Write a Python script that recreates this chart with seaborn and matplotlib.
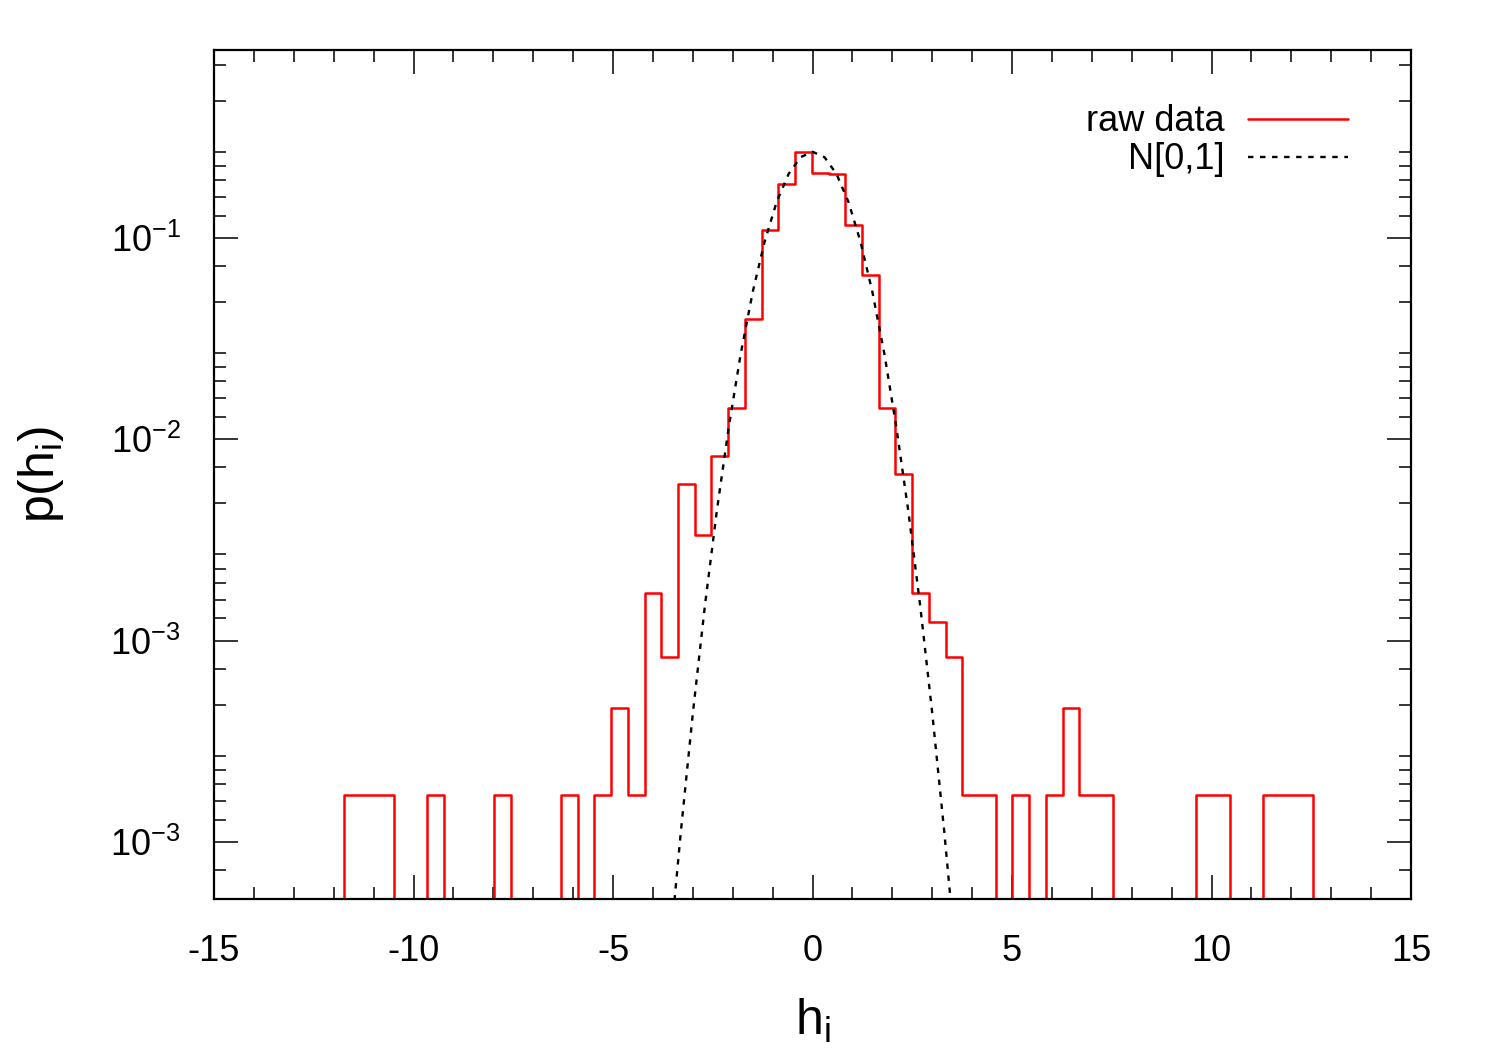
import numpy as np
import pandas as pd
import seaborn as sns
import matplotlib
matplotlib.use("Agg")
import matplotlib.pyplot as plt
from matplotlib.ticker import MultipleLocator, FixedLocator, NullFormatter

# histogram of h_i (58 equal-width bins), density per bin, 0 = empty bin
first_edge = -11.754
bin_width = 0.4191
density = [1.71e-4, 1.71e-4, 1.71e-4, 0, 0, 1.71e-4, 0, 0, 0, 1.71e-4,
           0, 0, 0, 1.71e-4, 0, 1.71e-4, 4.64e-4, 1.71e-4, 1.72e-3, 8.27e-4,
           5.98e-3, 3.35e-3, 8.27e-3, 1.43e-2, 3.95e-2, 0.1096, 0.1848, 0.2684, 0.2110, 0.2072,
           0.1160, 0.0655, 1.43e-2, 6.73e-3, 1.72e-3, 1.24e-3, 8.27e-4, 1.71e-4, 1.71e-4, 0,
           1.71e-4, 0, 1.71e-4, 4.64e-4, 1.71e-4, 1.71e-4, 0, 0, 0, 0,
           0, 1.71e-4, 1.71e-4, 0, 0, 1.71e-4, 1.71e-4, 1.71e-4]

# reference curve
curve_x = [-3.6, -3.3, -3.0, -2.7, -2.4, -2.1, -1.8, -1.5, -1.2, -0.9, -0.6, -0.3, 0.0,
           0.3, 0.6, 0.9, 1.2, 1.5, 1.8, 2.1, 2.4, 2.7, 3.0, 3.3, 3.6]
curve_p = [2.58e-5, 1.13e-4, 4.36e-4, 1.48e-3, 4.40e-3, 1.15e-2, 2.66e-2, 5.39e-2, 9.61e-2,
           0.151, 0.208, 0.252, 0.268, 0.252, 0.208, 0.151, 9.61e-2, 5.39e-2, 2.66e-2,
           1.15e-2, 4.40e-3, 1.48e-3, 4.36e-4, 1.13e-4, 2.58e-5]

y_ticks = [1e-1, 1e-2, 1e-3, 1e-4]
y_tick_labels = ['$10^{-1}$', '$10^{-2}$', '$10^{-3}$', '$10^{-3}$']
minor_factors = [0.726, 0.481, 0.268, 0.228, 0.194, 0.160, 0.129]

ymin, ymax = 5.21e-5, 0.8587
xmin, xmax = -15, 15

sns.set_theme(style="ticks")
plt.rcParams['font.family'] = ['Liberation Sans', 'DejaVu Sans']
plt.rcParams['mathtext.fontset'] = 'custom'
plt.rcParams['mathtext.rm'] = 'Liberation Sans'
plt.rcParams['mathtext.it'] = 'Liberation Sans:italic'
plt.rcParams['axes.unicode_minus'] = False
plt.rcParams['text.color'] = 'black'
plt.rcParams['axes.labelcolor'] = 'black'
plt.rcParams['xtick.labelcolor'] = 'black'
plt.rcParams['ytick.labelcolor'] = 'black'

# step line: empty bins sit on the bottom of the axis
edges = first_edge + bin_width * np.arange(len(density) + 1)
vals = [d if d > 0 else ymin for d in density]
step = pd.DataFrame({
    "h": [xmin] + list(edges) + [xmax],
    "p": [ymin] + vals + [ymin, ymin],
})
gauss = pd.DataFrame({"h": curve_x, "p": curve_p})

fig = plt.figure(figsize=(15, 10.5), dpi=100)
ax = fig.add_axes([0.1427, 0.1438, 0.798, 0.8086])

sns.lineplot(data=step, x="h", y="p", drawstyle="steps-post", estimator=None, sort=False,
             color="red", lw=1.8, label="raw data", ax=ax)
sns.lineplot(data=gauss, x="h", y="p", estimator=None, sort=False,
             color="black", lw=1.7, linestyle=(0, (2.3, 2.8)), label="N[0,1]", ax=ax)

ax.set_yscale("log")
ax.set_xlim(xmin, xmax)
ax.set_ylim(ymin, ymax)

ax.xaxis.set_major_locator(MultipleLocator(5))
ax.xaxis.set_minor_locator(MultipleLocator(1))
ax.yaxis.set_major_locator(FixedLocator(y_ticks))
ax.set_yticklabels(y_tick_labels)
minor_y = [m * f for m in [1.0] + y_ticks for f in minor_factors]
ax.yaxis.set_minor_locator(FixedLocator(minor_y))
ax.yaxis.set_minor_formatter(NullFormatter())

ax.tick_params(which="major", direction="in", length=17, width=1.1, top=True, right=True,
               labelsize=26, color="black")
ax.tick_params(axis="x", which="major", pad=25)
ax.tick_params(axis="y", which="major", pad=24)
ax.tick_params(which="minor", direction="in", length=8.5, width=1.1, top=True, right=True,
               color="black")
for s in ax.spines.values():
    s.set_linewidth(1.6)
    s.set_color("black")

ax.set_xlabel(r"h$_\mathrm{i}$", fontsize=36, labelpad=20)
ax.set_ylabel(r"p(h$_\mathrm{i}$)", fontsize=36, labelpad=32)

ax.legend(loc="upper right", bbox_to_anchor=(0.947, 0.936), frameon=False, fontsize=26,
          markerfirst=False, handlelength=2.75, handletextpad=0.65, labelspacing=0.08,
          borderpad=0, borderaxespad=0)

fig.savefig("out.png", dpi=100)
